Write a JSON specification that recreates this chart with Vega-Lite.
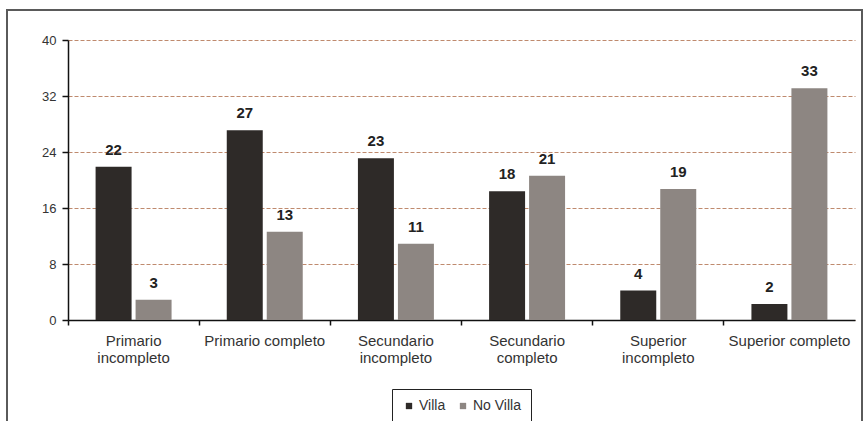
{
  "$schema": "https://vega.github.io/schema/vega-lite/v6.json",
  "autosize": "none",
  "width": 787,
  "height": 280,
  "padding": {"left": 68, "top": 40, "right": 8, "bottom": 101},
  "background": "white",
  "config": {
    "font": "Liberation Sans",
    "view": {"stroke": null},
    "axis": {"labelFont": "Liberation Sans", "labelColor": "#333333"}
  },
  "data": {
    "values": [
      {"nivel": "Primario incompleto", "grupo": "Villa", "valor": 21.9},
      {"nivel": "Primario incompleto", "grupo": "No Villa", "valor": 2.9},
      {"nivel": "Primario completo", "grupo": "Villa", "valor": 27.1},
      {"nivel": "Primario completo", "grupo": "No Villa", "valor": 12.6},
      {"nivel": "Secundario incompleto", "grupo": "Villa", "valor": 23.1},
      {"nivel": "Secundario incompleto", "grupo": "No Villa", "valor": 10.9},
      {"nivel": "Secundario completo", "grupo": "Villa", "valor": 18.4},
      {"nivel": "Secundario completo", "grupo": "No Villa", "valor": 20.6},
      {"nivel": "Superior incompleto", "grupo": "Villa", "valor": 4.2},
      {"nivel": "Superior incompleto", "grupo": "No Villa", "valor": 18.7},
      {"nivel": "Superior completo", "grupo": "Villa", "valor": 2.3},
      {"nivel": "Superior completo", "grupo": "No Villa", "valor": 33.1}
    ]
  },
  "encoding": {
    "x": {
      "field": "nivel", "type": "nominal", "sort": null,
      "scale": {"paddingInner": 0, "paddingOuter": 0},
      "axis": {
        "title": null, "labelAngle": 0, "bandPosition": 0,
        "domainColor": "#111111", "domainWidth": 1.5,
        "tickColor": "#111111", "tickSize": 5, "tickWidth": 1.5,
        "labelPadding": 8, "labelFontSize": 15, "labelLineHeight": 17,
        "labelExpr": "datum.label == 'Primario completo' || datum.label == 'Superior completo' ? datum.label : split(datum.label, ' ')"
      }
    },
    "xOffset": {
      "field": "grupo", "type": "nominal", "sort": ["Villa", "No Villa"],
      "scale": {"paddingInner": 0.1, "paddingOuter": 0.69}
    },
    "y": {
      "field": "valor", "type": "quantitative",
      "scale": {"domain": [0, 40], "nice": false},
      "axis": {
        "title": null, "values": [0, 8, 16, 24, 32, 40],
        "domainColor": "#111111", "domainWidth": 1.5,
        "tickColor": "#111111", "tickSize": 6, "tickWidth": 1.5,
        "labelPadding": 6, "labelFontSize": 13,
        "grid": true, "gridColor": "#bf8a6e", "gridDash": [4, 2], "gridWidth": 1
      }
    }
  },
  "layer": [
    {
      "mark": {"type": "rect", "fill": null, "stroke": "#5a5a5a", "strokeWidth": 2, "clip": false},
      "encoding": {
        "x": {"value": -61},
        "x2": {"value": 794},
        "y": {"value": -30},
        "y2": {"value": 400},
        "xOffset": null
      }
    },
    {
      "mark": {"type": "bar"},
      "encoding": {
        "color": {
          "field": "grupo", "type": "nominal", "sort": ["Villa", "No Villa"],
          "scale": {"domain": ["Villa", "No Villa"], "range": ["#2e2a28", "#8d8682"]},
          "legend": {
            "title": null, "orient": "none", "direction": "horizontal",
            "legendX": 324, "legendY": 349,
            "symbolType": "square", "symbolSize": 40, "symbolStrokeWidth": 0,
            "labelFontSize": 14, "labelColor": "#333333", "labelFont": "Liberation Sans",
            "columnPadding": 10, "labelOffset": 3,
            "strokeColor": "#222222", "padding": 10
          }
        }
      }
    },
    {
      "mark": {"type": "text", "baseline": "alphabetic", "dy": -12, "fontWeight": "bold", "fontSize": 15, "color": "#222222"},
      "encoding": {
        "text": {"field": "valor", "type": "quantitative", "format": ".0f"}
      }
    }
  ]
}
